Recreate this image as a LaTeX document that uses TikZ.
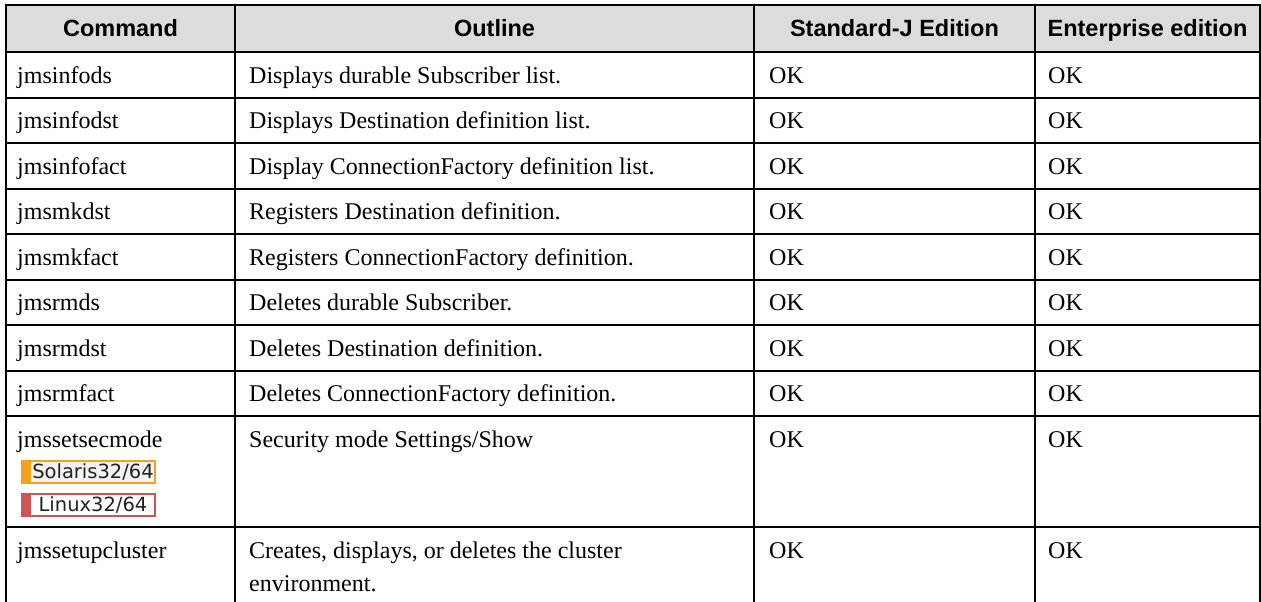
\documentclass[tikz,border=0pt]{standalone}
\usepackage{fontspec}
\setmainfont{Liberation Serif}
\newfontfamily\headfont{Liberation Sans}
\newfontfamily\tagfont{DejaVu Sans}

\definecolor{headbg}{HTML}{DCDCDC}
\definecolor{solorange}{HTML}{F4A21C}
\definecolor{solfill}{HTML}{F2F2F2}
\definecolor{linred}{HTML}{D05454}
\definecolor{tagtext}{HTML}{222222}

\begin{document}
\begin{tikzpicture}[x=1pt,y=-1pt,
  gridline/.style={line width=2pt,black},
  outerline/.style={line width=2.5pt,black},
  cell/.style={anchor=base west,inner sep=0pt,font=\fontsize{24}{33}\selectfont},
  headcell/.style={anchor=base,inner sep=0pt,font=\headfont\bfseries\fontsize{23.5}{28}\selectfont},
  tagbox/.style={draw=#1,line width=2pt,minimum width=133pt,minimum height=22pt,
    inner sep=0pt,font=\tagfont\fontsize{19.5}{22}\selectfont,text=tagtext,
    path picture={\fill[#1] (path picture bounding box.north west)
      rectangle ([xshift=9pt]path picture bounding box.south west);}},
]
\useasboundingbox (0,0) rectangle (1261,602);
\clip (0,0) rectangle (1261,602);

% header band
\fill[headbg] (6,5) rectangle (1260,52);

% horizontal rules
\foreach \r in {52,97.5,143,188.5,234,279.5,325,370.5,416,527}
  \draw[gridline] (6,\r) -- (1260,\r);
% vertical rules
\foreach \c in {235,754,1035}
  \draw[gridline] (\c,5) -- (\c,610);
\draw[outerline] (6,610) -- (6,5) -- (1260,5) -- (1260,610);

% header texts
\node[headcell] (hcmd) at (120.5,37) {Command};
\node[headcell] (hout) at (494.5,37) {Outline};
\node[headcell] (hstd) at (894.5,37) {Standard-J Edition};
\node[headcell] (hent) at (1147.5,37) {Enterprise edition};

% single-line rows
\foreach \t/\cmd/\txt [count=\i] in {
  52/jmsinfods/Displays durable Subscriber list.,
  97.5/jmsinfodst/Displays Destination definition list.,
  143/jmsinfofact/Display ConnectionFactory definition list.,
  188.5/jmsmkdst/Registers Destination definition.,
  234/jmsmkfact/Registers ConnectionFactory definition.,
  279.5/jmsrmds/Deletes durable Subscriber.,
  325/jmsrmdst/Deletes Destination definition.,
  370.5/jmsrmfact/Deletes ConnectionFactory definition.,
  416/jmssetsecmode/Security mode Settings\slash Show}
{
  \node[cell] (cmd\i) at (17,\t+31) {\cmd};
  \node[cell] (out\i) at (249,\t+31) {\txt};
  \node[cell] (std\i) at (769,\t+31) {OK};
  \node[cell] (ent\i) at (1048,\t+31) {OK};
}

% platform tags of jmssetsecmode
\node[tagbox=solorange,fill=solfill] (tagsol) at (88.5,472) {\hspace*{9pt}Solaris32/64};
\node[tagbox=linred,fill=white] (taglin) at (88.5,505) {\hspace*{9pt}Linux32/64};

% last row
\node[cell] (cmd10) at (17,558) {jmssetupcluster};
\node[cell] (out10) at (249,558)
  {\begin{tabular}[t]{@{}l@{}}Creates, displays, or deletes the cluster\\environment.\end{tabular}};
\node[cell] (std10) at (769,558) {OK};
\node[cell] (ent10) at (1048,558) {OK};
\end{tikzpicture}
\end{document}
